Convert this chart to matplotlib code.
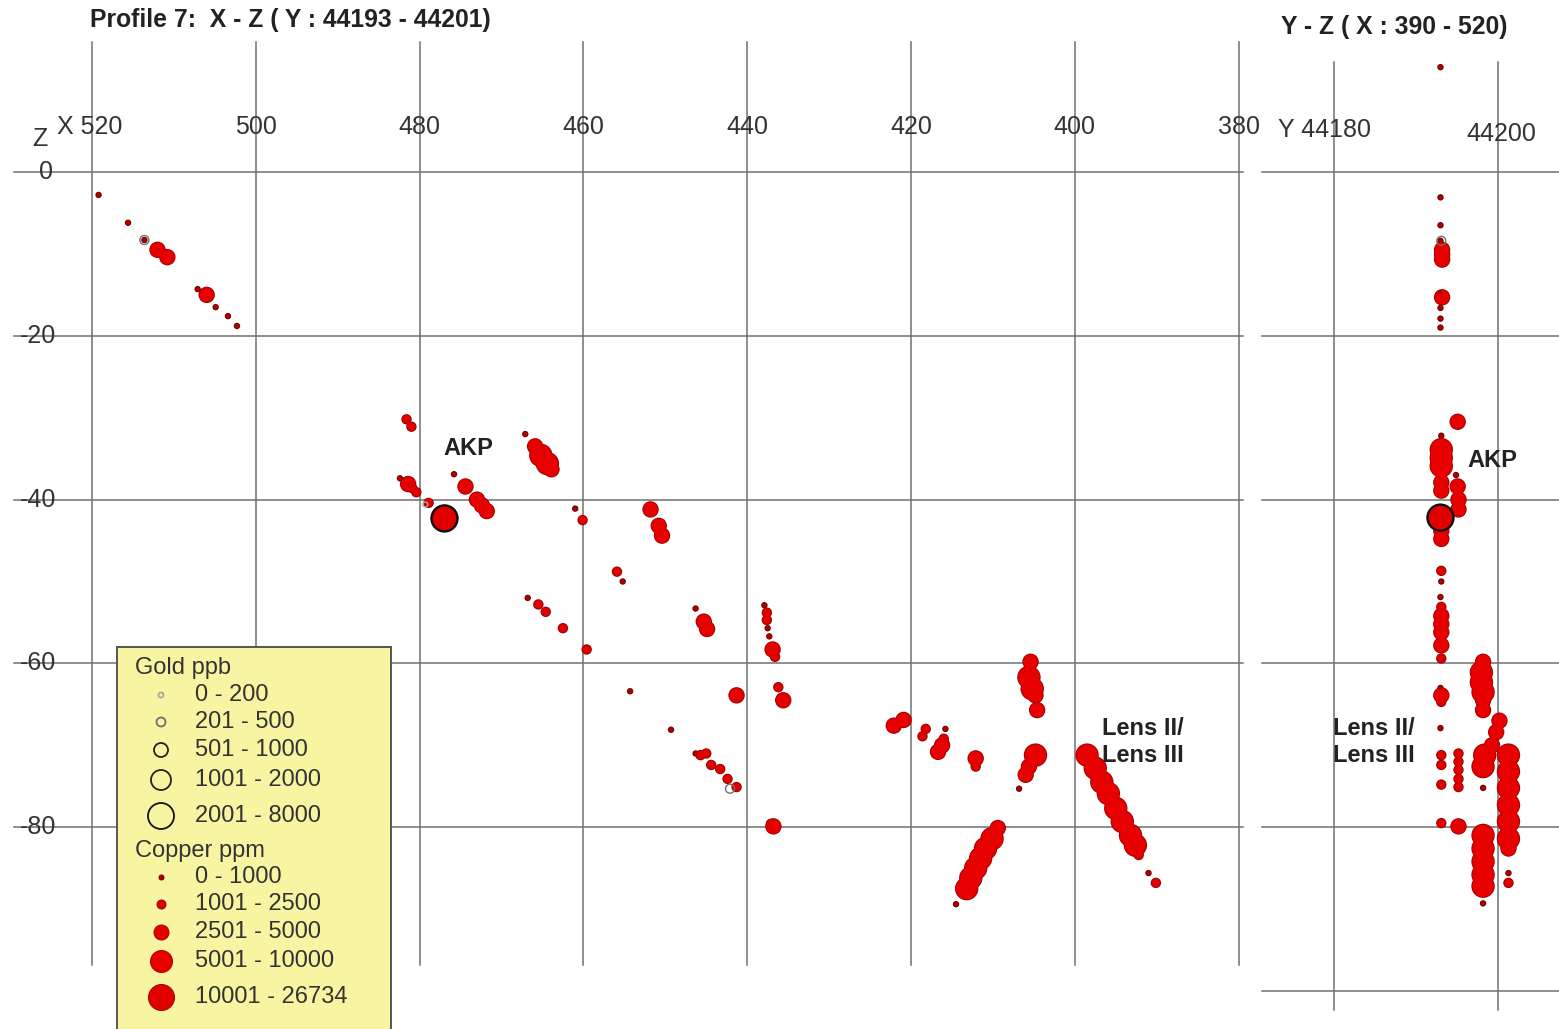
"""Profile 7 drill-hole section: gold / copper assays in X-Z and Y-Z views"""

import matplotlib

matplotlib.use("Agg")
import matplotlib.pyplot as plt
import numpy as np

plt.rcParams["font.family"] = ["Liberation Sans", "DejaVu Sans"]

# X-Z section, copper class 1..5
xz_x = [519.2, 515.6, 513.6, 512.0, 510.8, 507.1, 506.0, 504.9, 503.4, 502.3,
        481.6, 481.0, 482.4, 481.4, 480.9, 480.4, 478.9, 476.96, 475.8, 474.4,
        473.0, 472.4, 471.8, 467.1, 465.9, 465.2, 464.4, 463.9, 461.0, 460.1,
        451.8, 450.8, 450.4, 455.9, 455.2, 466.8, 465.5, 464.6, 462.5, 459.6,
        446.3, 445.3, 444.9, 437.9, 437.6, 437.6, 437.5, 437.3, 436.9, 436.6,
        454.3, 441.3, 436.2, 435.6, 449.3, 446.3, 445.7, 445.0, 444.4, 443.3,
        442.4, 441.3, 437.1, 436.8,
        422.1, 420.9, 418.2, 418.6, 415.8, 416.0, 416.2, 416.7, 412.1, 412.1,
        405.4, 405.6, 405.2, 404.8, 404.6, 404.8, 405.6, 406.0, 406.8,
        409.4, 410.1, 410.9, 411.5, 412.1, 412.7, 413.2, 414.5,
        398.5, 397.5, 396.7, 395.9, 395.0, 394.2, 393.2, 392.6, 392.2, 391.0, 390.1]
xz_z = [-2.8, -6.2, -8.3, -9.5, -10.4, -14.3, -15.0, -16.5, -17.6, -18.8,
        -30.2, -31.1, -37.4, -38.1, -38.6, -39.1, -40.4, -42.3, -36.9, -38.4,
        -40.0, -40.7, -41.4, -32.0, -33.5, -34.6, -35.6, -36.3, -41.1, -42.5,
        -41.2, -43.2, -44.4, -48.8, -50.0, -52.0, -52.8, -53.7, -55.7, -58.3,
        -53.3, -54.9, -55.8, -52.9, -53.8, -54.7, -55.7, -56.7, -58.3, -59.2,
        -63.4, -63.9, -62.9, -64.5, -68.1, -71.0, -71.2, -71.0, -72.4, -72.9,
        -74.1, -75.1, -79.6, -79.9,
        -67.6, -66.9, -68.0, -68.9, -68.0, -69.2, -70.0, -70.8, -71.6, -72.6,
        -59.8, -61.7, -63.1, -63.9, -65.7, -71.2, -72.6, -73.6, -75.3,
        -80.1, -81.4, -82.6, -83.8, -85.0, -86.2, -87.5, -89.4,
        -71.2, -72.8, -74.5, -75.9, -77.7, -79.3, -81.0, -82.2, -83.4, -85.6, -86.8]
xz_cu = [1, 1, 1, 3, 3, 1, 3, 1, 1, 1,
         2, 2, 1, 3, 2, 2, 2, 5, 1, 3,
         3, 3, 3, 1, 3, 4, 4, 3, 1, 2,
         3, 3, 3, 2, 1, 1, 2, 2, 2, 2,
         1, 3, 3, 1, 2, 2, 1, 1, 3, 2,
         1, 3, 2, 3, 1, 1, 2, 2, 2, 2,
         2, 2, 2, 3,
         3, 3, 2, 2, 1, 2, 3, 3, 3, 2,
         3, 4, 4, 3, 3, 4, 3, 3, 1,
         3, 4, 4, 4, 4, 4, 4, 1,
         4, 4, 4, 4, 4, 4, 4, 4, 2, 1, 2]

xz_gold_x = [513.6, 479.3, 476.96, 442.1]
xz_gold_z = [-8.3, -40.6, -42.3, -75.3]
xz_gold_cls = [2, 1, 5, 2]

# Y-Z section
yz_y = [44193.0, 44193.0, 44193.0, 44193.0, 44193.2, 44193.2, 44193.2, 44193.0, 44193.2, 44193.0,
        44193.0, 44193.0, 44195.1, 44193.1, 44193.1, 44193.1, 44193.1, 44193.1, 44193.1, 44194.9,
        44195.1, 44195.2, 44195.2, 44193.0, 44193.1, 44193.1, 44193.1, 44193.1, 44193.0, 44193.1,
        44193.1, 44193.1, 44193.1, 44193.1, 44193.1, 44193.0, 44193.1, 44193.1, 44193.0, 44193.1,
        44193.1, 44193.1, 44195.2, 44195.2, 44195.2, 44195.2, 44195.2, 44193.1, 44195.2,
        44198.2, 44198.0, 44198.0, 44198.2, 44198.2, 44198.2, 44200.2, 44199.8, 44199.3, 44198.4,
        44198.2, 44198.2, 44201.3, 44201.3, 44201.3, 44201.3, 44201.3, 44201.3, 44201.3, 44201.3,
        44201.3, 44198.2, 44198.2, 44198.2, 44198.2, 44198.2, 44198.2]
yz_z = [12.8, -3.1, -6.5, -8.4, -9.5, -10.1, -10.7, -14.8, -15.3, -16.6,
        -17.9, -19.0, -30.5, -32.2, -33.9, -34.9, -35.9, -37.9, -38.9, -37.0,
        -38.4, -40.0, -41.2, -42.2, -43.8, -44.8, -48.7, -50.0, -51.9, -53.1,
        -54.2, -55.2, -56.2, -57.8, -59.4, -63.0, -63.9, -64.7, -67.9, -71.2,
        -72.4, -74.8, -71.0, -72.0, -73.0, -74.1, -75.1, -79.5, -79.9,
        -59.8, -61.1, -62.3, -63.5, -64.5, -65.7, -67.0, -68.4, -70.0, -71.2,
        -72.6, -75.2, -71.2, -73.2, -75.2, -77.3, -79.3, -81.4, -82.6, -85.6,
        -86.8, -81.0, -82.6, -84.2, -85.8, -87.2, -89.3]
yz_cu = [1, 1, 1, 1, 3, 3, 3, 1, 3, 1,
         1, 1, 3, 1, 4, 4, 4, 3, 3, 1,
         3, 3, 3, 5, 3, 3, 2, 1, 1, 2,
         3, 3, 3, 3, 2, 1, 3, 2, 1, 2,
         2, 2, 2, 2, 2, 2, 2, 2, 3,
         3, 4, 4, 4, 3, 3, 3, 3, 3, 4,
         4, 1, 4, 4, 4, 4, 4, 4, 3, 1,
         2, 4, 4, 4, 4, 4, 1]

yz_gold_y = [44193.1, 44193.0]
yz_gold_z = [-8.4, -42.2]
yz_gold_cls = [2, 5]

gold_labels = ["0 - 200", "201 - 500", "501 - 1000", "1001 - 2000", "2001 - 8000"]
copper_labels = ["0 - 1000", "1001 - 2500", "2501 - 5000", "5001 - 10000", "10001 - 26734"]

x_ticks = [520, 500, 480, 460, 440, 420, 400, 380]
y_ticks = [44180, 44200]
z_ticks = [0, -20, -40, -60, -80]
z_ticks_yz = [0, -20, -40, -60, -80, -100]

W, H = 1559, 1029
PX = 8.19  # pixels per metre
CU_DIAM = [5, 9, 15, 22, 26]  # px
AU_DIAM = [5, 9, 14, 20, 26]
AU_EDGE = ["#a8a8a8", "#707070", "#222222", "#222222", "#111111"]
CU_FACE = ["#b00000", "#e00000", "#e60000", "#e60000", "#e00000"]
CU_EDGE = ["#6a0000", "#9a0000", "#a30000", "#a30000", "#a30000"]
GRID = "#707070"
TXT = "#333333"


def _size(diam_px):
    return (diam_px * 72 / 100) ** 2


def _draw_assays(ax, xs, zs, cu, gx, gz, gc):
    """copper blobs: outline layer first, fill on top so touching samples merge"""
    xs, zs, cu = np.asarray(xs), np.asarray(zs), np.asarray(cu)
    order = np.argsort(-cu, kind="stable")
    cls = cu[order]
    ax.scatter(xs[order], zs[order], s=[_size(CU_DIAM[c - 1] + 1.4) for c in cls],
               c=[CU_EDGE[c - 1] for c in cls], linewidths=0, zorder=3)
    ax.scatter(xs[order], zs[order], s=[_size(CU_DIAM[c - 1] - 0.6) for c in cls],
               c=[CU_FACE[c - 1] for c in cls], linewidths=0, zorder=3.1)
    for x, z, c in zip(gx, gz, gc):
        ax.scatter([x], [z], s=_size(AU_DIAM[c - 1]), facecolors="none",
                   edgecolors=AU_EDGE[c - 1], linewidths=1.7 if c >= 4 else 1.0, zorder=4)


fig = plt.figure(figsize=(W / 100, H / 100), dpi=100)

# left: X-Z
x0 = 520 + 92 / PX
ax = fig.add_axes([0, 0, 1250 / W, 1])
ax.set_xlim(x0, x0 - 1250 / PX)
ax.set_ylim(-(H - 172) / PX, 172 / PX)
ax.axis("off")
for x in x_ticks:
    ax.plot([x, x], [130 / PX, -(965 - 172) / PX], color=GRID, lw=1.1, zorder=1)
for z in z_ticks:
    ax.plot([x0 - 14 / PX, x0 - 1243 / PX], [z, z], color=GRID, lw=1.1, zorder=1)
for x in x_ticks:
    label = f"X {x}" if x == 520 else str(x)
    ax.text(x + (0.25 if x == 520 else 0), 5.5, label, ha="center", va="center",
            fontsize=18, color=TXT)
ax.text(526.4, 4.0, "Z", ha="center", va="center", fontsize=18, color=TXT)
for z in z_ticks:
    ax.text(526.6 if z else 525.6, z, str(z), ha="center", va="center",
            fontsize=18, color=TXT, zorder=2)
_draw_assays(ax, xz_x, xz_z, xz_cu, xz_gold_x, xz_gold_z, xz_gold_cls)
ax.text(474.1, -33.8, "AKP", ha="center", va="center", fontsize=17,
        fontweight="bold", color="#222222", zorder=5)
ax.text(396.7, -69.6, "Lens II/\nLens III", ha="left", va="center", fontsize=17,
        fontweight="bold", color="#222222", linespacing=1.25, zorder=5)

# right: Y-Z
y0 = 44180 - 84 / PX
bx = fig.add_axes([1250 / W, 0, 309 / W, 1])
bx.set_xlim(y0, y0 + 309 / PX)
bx.set_ylim(-(H - 172) / PX, 172 / PX)
bx.axis("off")
for y in y_ticks:
    bx.plot([y, y], [110 / PX, -(1010 - 172) / PX], color=GRID, lw=1.1, zorder=1)
for z in z_ticks_yz:
    bx.plot([y0 + 12 / PX, y0 + 309 / PX], [z, z], color=GRID, lw=1.1, zorder=1)
bx.text(44178.9, 5.1, "Y 44180", ha="center", va="center", fontsize=18, color=TXT)
bx.text(44200.4, 4.6, "44200", ha="center", va="center", fontsize=18, color=TXT)
_draw_assays(bx, yz_y, yz_z, yz_cu, yz_gold_y, yz_gold_z, yz_gold_cls)
bx.text(44199.3, -35.2, "AKP", ha="center", va="center", fontsize=17,
        fontweight="bold", color="#222222", zorder=5)
bx.text(44179.9, -69.6, "Lens II/\nLens III", ha="left", va="center", fontsize=17,
        fontweight="bold", color="#222222", linespacing=1.25, zorder=5)

fig.text(90 / W, 1 - 20 / H, "Profile 7:  X - Z ( Y : 44193 - 44201)", ha="left",
         va="center", fontsize=17.8, fontweight="bold", color="#222222")
fig.text(1281 / W, 1 - 27 / H, "Y - Z ( X : 390 - 520)", ha="left", va="center",
         fontsize=17.8, fontweight="bold", color="#222222")

# legend box (pixel coordinates)
lg = fig.add_axes([117 / W, 0, 274 / W, (H - 647) / H])
lg.set_xlim(117, 391)
lg.set_ylim(H, 647)
lg.set_facecolor("#f8f5a2")
lg.set_xticks([])
lg.set_yticks([])
for side in ("top", "left", "right"):
    lg.spines[side].set_color("#555555")
    lg.spines[side].set_linewidth(1.4)
lg.spines["bottom"].set_visible(False)

lg.text(135, 668, "Gold ppb", ha="left", va="center", fontsize=17, color=TXT)
for i, (label, row) in enumerate(zip(gold_labels, [695, 722, 750, 780, 816])):
    lg.scatter([161], [row], s=_size(AU_DIAM[i]), facecolors="none",
               edgecolors=AU_EDGE[i], linewidths=1.3)
    lg.text(195, row, label, ha="left", va="center", fontsize=17, color=TXT)
lg.text(135, 851, "Copper ppm", ha="left", va="center", fontsize=17, color=TXT)
for i, (label, row) in enumerate(zip(copper_labels, [877, 904, 932, 961, 997])):
    lg.scatter([161], [row], s=_size(CU_DIAM[i]), c=CU_FACE[i], edgecolors=CU_EDGE[i],
               linewidths=0.7)
    lg.text(195, row, label, ha="left", va="center", fontsize=17, color=TXT)

fig.savefig("out.png", dpi=100)
